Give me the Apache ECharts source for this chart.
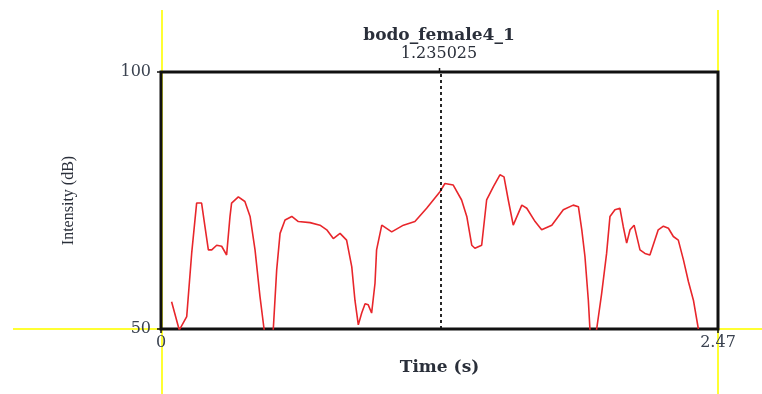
<!DOCTYPE html>
<html>
<head>
<meta charset="utf-8">
<script src="https://cdn.jsdelivr.net/npm/echarts@6/dist/echarts.min.js"></script>
<style>
  html, body { margin: 0; padding: 0; background: #fff; }
  #chart { width: 762px; height: 394px; }
</style>
</head>
<body>
<div id="chart"></div>
<script>
// intensity contour (s, dB); values under 50 are clipped by the frame
const times = [0.047, 0.081, 0.114, 0.136, 0.158, 0.180, 0.195, 0.210, 0.225, 0.247, 0.269, 0.291,
  0.306, 0.313, 0.343, 0.372, 0.395, 0.417, 0.439, 0.457, 0.475, 0.490, 0.498, 0.513, 0.528, 0.550,
  0.580, 0.609, 0.661, 0.705, 0.735, 0.764, 0.794, 0.823, 0.846, 0.860, 0.875, 0.890, 0.905, 0.919,
  0.934, 0.949, 0.956, 0.979, 1.023, 1.075, 1.126, 1.178, 1.237, 1.259, 1.296, 1.333, 1.356, 1.378,
  1.392, 1.422, 1.444, 1.474, 1.503, 1.521, 1.540, 1.562, 1.600, 1.622, 1.659, 1.688, 1.733, 1.784,
  1.828, 1.851, 1.866, 1.880, 1.895, 1.902, 1.915, 1.932, 1.954, 1.976, 1.991, 2.013, 2.035, 2.050,
  2.065, 2.080, 2.098, 2.124, 2.146, 2.168, 2.205, 2.228, 2.250, 2.272, 2.294, 2.317, 2.339, 2.361, 2.383];
const intensity = [55.3, 49.8, 52.4, 64.7, 74.5, 74.5, 69.9, 65.4, 65.4, 66.3, 66.1, 64.4,
  71.9, 74.5, 75.7, 74.8, 71.9, 65.4, 56.3, 50.0, 44.0, 45.0, 50.0, 61.5, 68.6, 71.2,
  71.9, 70.9, 70.7, 70.2, 69.3, 67.6, 68.6, 67.3, 62.1, 55.6, 50.8, 53.1, 54.9, 54.7,
  53.1, 58.9, 65.4, 70.2, 68.9, 70.2, 70.9, 73.5, 76.7, 78.3, 78.0, 75.1, 71.9, 66.3,
  65.7, 66.3, 75.1, 77.7, 80.0, 79.6, 75.1, 70.2, 74.1, 73.5, 70.9, 69.3, 70.2, 73.2,
  74.1, 73.8, 69.3, 64.1, 55.6, 50.0, 44.0, 50.0, 56.9, 64.7, 71.9, 73.2, 73.5, 69.9,
  66.7, 69.3, 70.2, 65.4, 64.7, 64.4, 69.3, 70.0, 69.6, 68.0, 67.3, 63.4, 59.2, 55.6, 50.0];

const fileName = 'bodo_female4_1';
const cursorTime = 1.235025;
const xRange = [0, 2.47];
const yRange = [50, 100];

const chart = echarts.init(document.getElementById('chart'));
const serif = '"Liberation Serif", "DejaVu Serif", serif';
const wide = '"DejaVu Serif", serif';

const option = {
  animation: false,
  title: {
    text: fileName,
    subtext: String(cursorTime),
    left: 434,
    textAlign: 'center',
    top: 22,
    itemGap: 2,
    textStyle: { fontFamily: wide, fontSize: 17, fontWeight: 'bold', color: '#2a2f3a' },
    subtextStyle: { fontFamily: wide, fontSize: 16, color: '#2a2f3a' }
  },
  grid: {
    left: 161, right: 44, top: 72, bottom: 65,
    show: true, borderColor: '#111', borderWidth: 3, backgroundColor: 'transparent'
  },
  xAxis: {
    type: 'value',
    min: xRange[0], max: xRange[1], interval: 2.47,
    name: 'Time (s)',
    nameLocation: 'middle',
    nameGap: 30,
    nameTextStyle: { fontFamily: wide, fontSize: 17, fontWeight: 'bold', color: '#2a2f3a' },
    axisLine: { show: false },
    axisTick: { show: true, length: 4, lineStyle: { color: '#111', width: 1.5 } },
    axisLabel: { fontFamily: wide, fontSize: 16, color: '#3a4250', margin: 6, showMaxLabel: true },
    splitLine: { show: false }
  },
  yAxis: {
    type: 'value',
    min: yRange[0], max: yRange[1], interval: 50,
    name: 'Intensity (dB)',
    nameLocation: 'middle',
    nameGap: 84,
    nameRotate: 90,
    nameTextStyle: { fontFamily: serif, fontSize: 16, color: '#2a2f3a' },
    axisLine: { show: false },
    axisTick: { show: true, length: 4, lineStyle: { color: '#111', width: 1.5 } },
    axisLabel: { fontFamily: wide, fontSize: 16, color: '#3a4250', margin: 10 },
    splitLine: { show: false }
  },
  series: [{
    type: 'line',
    data: times.map((t, i) => [t, intensity[i]]),
    showSymbol: false,
    clip: true,
    lineStyle: { color: '#e8262b', width: 1.6 },
    markLine: {
      silent: true,
      symbol: 'none',
      label: { show: false },
      lineStyle: { color: '#111', type: [3, 3], width: 1.8 },
      data: [{ xAxis: cursorTime }]
    }
  }]
};
chart.setOption(option);

// yellow selection guides drawn behind the frame
const tl = chart.convertToPixel({ gridIndex: 0 }, [xRange[0], yRange[1]]);
const br = chart.convertToPixel({ gridIndex: 0 }, [xRange[1], yRange[0]]);
const cur = chart.convertToPixel({ gridIndex: 0 }, [cursorTime, yRange[1]]);
const yellow = { stroke: '#ffff33', lineWidth: 2 };
chart.setOption({
  graphic: [
    { type: 'line', z: -1, shape: { x1: tl[0] + 1, y1: 10, x2: tl[0] + 1, y2: 394 }, style: yellow },
    { type: 'line', z: -1, shape: { x1: br[0], y1: 10, x2: br[0], y2: 394 }, style: yellow },
    { type: 'line', z: -1, shape: { x1: 13, y1: br[1], x2: 762, y2: br[1] }, style: yellow },
    { type: 'line', z: 5, shape: { x1: cur[0], y1: tl[1] - 4, x2: cur[0], y2: tl[1] }, style: { stroke: '#111', lineWidth: 1.5 } }
  ]
});
</script>
</body>
</html>
